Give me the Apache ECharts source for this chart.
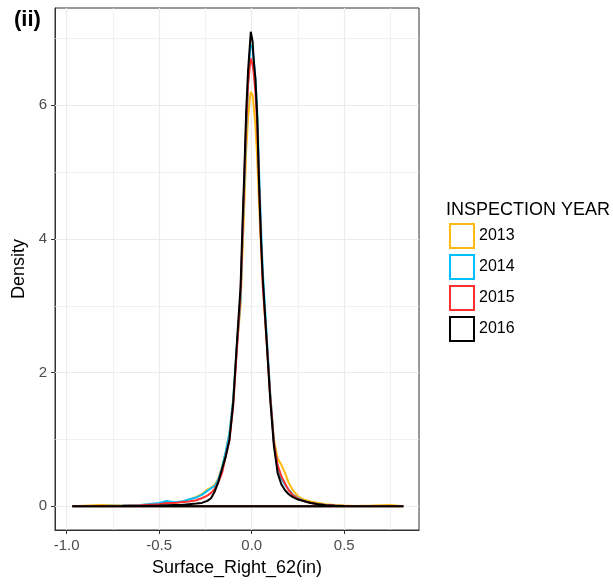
<!DOCTYPE html>
<html>
<head>
<meta charset="utf-8">
<script src="https://cdn.jsdelivr.net/npm/echarts@6/dist/echarts.min.js"></script>
<style>
html,body{margin:0;padding:0;background:#fff;}
#chart{width:613px;height:584px;}
</style>
</head>
<body>
<div id="chart"></div>
<script>
// ---- data ----
const years = ['2013', '2014', '2015', '2016'];
const colors = ['#FFB90F', '#00BFFF', '#FF3030', '#000000'];
const xs = [-0.97,-0.82,-0.7,-0.6,-0.5,-0.46,-0.42,-0.38,-0.34,-0.3,-0.27,-0.24,-0.22,-0.2,-0.18,-0.16,-0.14,-0.12,-0.1,-0.08,
  -0.06,-0.05,-0.04,-0.03,-0.02,-0.01,-0.005,0.005,0.01,0.02,0.03,0.04,0.05,0.06,
  0.08,0.1,0.12,0.14,0.16,0.18,0.2,0.22,0.25,0.28,0.32,0.36,0.4,0.45,0.5,0.55,0.65,0.75,0.82];
const d2013 = [0,0.02,0.01,0.02,0.03,0.05,0.05,0.07,0.1,0.14,0.18,0.25,0.28,0.32,0.42,0.6,0.82,1.1,1.6,2.4,
  3.0,3.8,4.5,5.3,5.8,6.1,6.2,6.15,6.0,5.7,5.2,4.5,3.9,3.3,
  2.5,1.65,1.0,0.72,0.62,0.5,0.35,0.25,0.15,0.1,0.07,0.05,0.03,0.02,0.01,0.005,0.01,0.02,0];
const d2014 = [0,0.005,0.01,0.02,0.05,0.08,0.06,0.07,0.1,0.13,0.17,0.23,0.27,0.3,0.4,0.58,0.82,1.1,1.6,2.4,
  3.1,4.0,4.8,5.6,6.3,6.8,6.9,6.85,6.7,6.4,5.9,5.0,4.2,3.5,
  2.6,1.7,0.95,0.6,0.42,0.32,0.25,0.18,0.12,0.08,0.05,0.03,0.02,0.01,0.005,0.003,0.002,0.001,0];
const d2015 = [0,0.004,0.008,0.015,0.03,0.05,0.05,0.06,0.07,0.09,0.12,0.16,0.2,0.26,0.36,0.5,0.75,1.0,1.5,2.35,
  3.2,4.0,4.9,5.7,6.3,6.6,6.7,6.6,6.5,6.2,5.7,4.8,4.0,3.3,
  2.5,1.65,0.95,0.62,0.45,0.34,0.24,0.17,0.11,0.08,0.05,0.03,0.02,0.01,0.005,0.003,0.002,0.001,0];
const d2016 = [0,0.002,0.003,0.005,0.01,0.015,0.02,0.02,0.03,0.04,0.05,0.08,0.12,0.22,0.37,0.56,0.75,1.0,1.55,2.45,
  3.3,4.2,5.0,5.9,6.5,6.9,7.1,6.95,6.7,6.4,5.8,4.8,4.0,3.4,
  2.5,1.6,0.9,0.5,0.33,0.24,0.18,0.14,0.1,0.08,0.05,0.03,0.015,0.008,0.004,0.002,0.001,0.001,0];
const densities = [d2013, d2014, d2015, d2016];
const xTicks = [-1.0, -0.5, 0.0, 0.5];
const xMinor = [-0.75, -0.25, 0.25, 0.75];
const yTicks = [0, 2, 4, 6];
const yMinor = [1, 3, 5, 7];
const xRange = [-1.063, 0.904];
const yRange = [-0.355, 7.455];

// ---- chart ----
const chart = echarts.init(document.getElementById('chart'), null, {renderer: 'canvas'});
const FONT = 'Liberation Sans, Arial, sans-serif';

const curveSeries = years.map((y, k) => {
  const pts = xs.map((x, i) => [x, densities[k][i]]);
  pts.push([xs[0], 0]); // close along baseline like a density outline
  return {
    name: y,
    type: 'line',
    data: pts,
    showSymbol: false,
    symbol: 'none',
    lineStyle: {color: colors[k], width: 2},
    itemStyle: {color: colors[k]},
    z: 3 + k,
    animation: false
  };
});

const gridSeries = {
  name: 'grid',
  type: 'line',
  data: [],
  z: 1,
  silent: true,
  markLine: {
    silent: true,
    z: 1,
    symbol: ['none', 'none'],
    label: {show: false},
    animation: false,
    data: [
      ...xMinor.map(v => ({xAxis: v, lineStyle: {color: '#ebebeb', width: 0.7, type: 'solid'}})),
      ...yMinor.map(v => ({yAxis: v, lineStyle: {color: '#ebebeb', width: 0.7, type: 'solid'}})),
      ...xTicks.map(v => ({xAxis: v, lineStyle: {color: '#ebebeb', width: 1.2, type: 'solid'}})),
      ...yTicks.map(v => ({yAxis: v, lineStyle: {color: '#ebebeb', width: 1.2, type: 'solid'}}))
    ]
  }
};

chart.setOption({
  animation: false,
  backgroundColor: '#ffffff',
  textStyle: {fontFamily: FONT},
  title: [
    {text: '(ii)', left: 14, top: 9, padding: 0,
     textStyle: {fontSize: 22, fontWeight: 'bold', color: '#000', fontFamily: FONT}},
    {text: 'INSPECTION YEAR', left: 446, top: 201, padding: 0,
     textStyle: {fontSize: 18, fontWeight: 'normal', color: '#000', fontFamily: FONT}}
  ],
  legend: {
    orient: 'vertical',
    left: 449,
    top: 223,
    padding: 0,
    itemWidth: 24,
    itemHeight: 24,
    itemGap: 5,
    icon: 'rect',
    selectedMode: false,
    textStyle: {fontSize: 16, color: '#000', fontFamily: FONT},
    data: years.map((y, k) => ({
      name: y,
      icon: 'rect',
      itemStyle: {color: '#ffffff', borderColor: colors[k], borderWidth: 2}
    }))
  },
  grid: {
    left: 55, top: 8, width: 364, height: 522,
    show: true, borderColor: '#333333', borderWidth: 1, backgroundColor: '#ffffff',
    containLabel: false
  },
  xAxis: {
    type: 'value',
    min: xRange[0], max: xRange[1],
    name: 'Surface_Right_62(in)',
    nameLocation: 'middle',
    nameGap: 29,
    nameTextStyle: {fontSize: 18, color: '#000', fontFamily: FONT},
    axisLine: {show: true, onZero: false, lineStyle: {color: '#333333', width: 1}},
    axisTick: {show: true, inside: false, customValues: xTicks, length: 4, lineStyle: {color: '#333333'}},
    axisLabel: {show: true, customValues: xTicks, formatter: v => v.toFixed(1), color: '#4d4d4d', fontSize: 15, margin: 8, fontFamily: FONT},
    splitLine: {show: false},
    minorSplitLine: {show: false}
  },
  yAxis: {
    type: 'value',
    min: yRange[0], max: yRange[1],
    name: 'Density',
    nameLocation: 'middle',
    nameGap: 27,
    nameTextStyle: {fontSize: 18, color: '#000', fontFamily: FONT},
    axisLine: {show: true, onZero: false, lineStyle: {color: '#333333', width: 1}},
    axisTick: {show: true, inside: false, customValues: yTicks, length: 4, lineStyle: {color: '#333333'}},
    axisLabel: {show: true, customValues: yTicks, formatter: v => String(v), color: '#4d4d4d', fontSize: 15, margin: 8, fontFamily: FONT},
    splitLine: {show: false},
    minorSplitLine: {show: false}
  },
  series: [gridSeries, ...curveSeries]
});
</script>
</body>
</html>
